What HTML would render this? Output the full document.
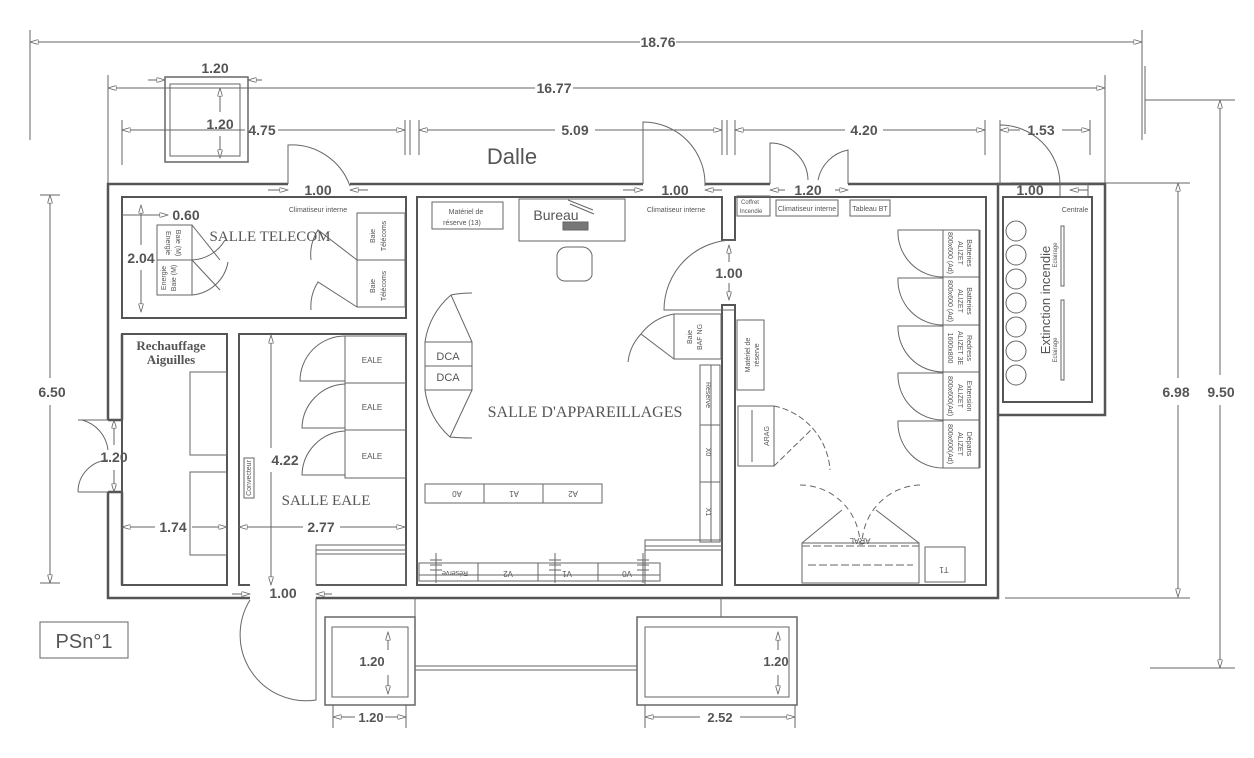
<!DOCTYPE html>
<html><head><meta charset="utf-8"><style>
html,body{margin:0;padding:0;background:#fff;}
svg{display:block;}
text{font-family:"Liberation Sans",sans-serif;fill:#555;}
.s{font-family:"Liberation Serif",serif;}
</style></head><body>
<svg width="1254" height="758" viewBox="0 0 1254 758" xmlns="http://www.w3.org/2000/svg">
<defs>
<marker id="a" viewBox="0 0 10 6" refX="10" refY="3" markerWidth="9" markerHeight="5" orient="auto-start-reverse"><path d="M0,0 L10,3 L0,6 Z" fill="#fff" stroke="#666" stroke-width="1"/></marker>
</defs>
<g stroke="#666" fill="none" stroke-width="1">
<!-- top dimensions -->
<line x1="30" y1="42" x2="640" y2="42" marker-start="url(#a)"/><line x1="676" y1="42" x2="1142" y2="42" marker-end="url(#a)"/>
<line x1="30" y1="30" x2="30" y2="140"/><line x1="1142" y1="30" x2="1142" y2="140"/>
<line x1="108" y1="88" x2="535" y2="88" marker-start="url(#a)"/><line x1="573" y1="88" x2="1105" y2="88" marker-end="url(#a)"/>
<line x1="108" y1="75" x2="108" y2="184"/><line x1="1105" y1="75" x2="1105" y2="184"/>
<line x1="122" y1="130" x2="245" y2="130" marker-start="url(#a)"/><line x1="278" y1="130" x2="405" y2="130" marker-end="url(#a)"/>
<line x1="122" y1="120" x2="122" y2="165"/><line x1="405" y1="120" x2="405" y2="155"/><line x1="410" y1="120" x2="410" y2="155"/>
<line x1="419" y1="130" x2="555" y2="130" marker-start="url(#a)"/><line x1="595" y1="130" x2="722" y2="130" marker-end="url(#a)"/>
<line x1="419" y1="120" x2="419" y2="155"/><line x1="722" y1="120" x2="722" y2="155"/><line x1="727" y1="120" x2="727" y2="155"/>
<line x1="735" y1="130" x2="845" y2="130" marker-start="url(#a)"/><line x1="883" y1="130" x2="985" y2="130" marker-end="url(#a)"/>
<line x1="735" y1="120" x2="735" y2="155"/><line x1="985" y1="120" x2="985" y2="155"/><line x1="1000" y1="120" x2="1000" y2="155"/>
<line x1="1000" y1="130" x2="1020" y2="130" marker-start="url(#a)"/><line x1="1062" y1="130" x2="1090" y2="130" marker-end="url(#a)"/><line x1="1090" y1="120" x2="1090" y2="155"/>
<!-- top left square -->
<rect x="165" y="77" width="83" height="85" stroke-width="1.5"/><rect x="170" y="84" width="70" height="72"/>
<line x1="148" y1="80" x2="165" y2="80" marker-end="url(#a)"/><line x1="248" y1="80" x2="262" y2="80" marker-start="url(#a)"/>
<line x1="220" y1="88" x2="220" y2="112" marker-start="url(#a)"/><line x1="220" y1="136" x2="220" y2="158" marker-end="url(#a)"/>
<!-- right dims -->
<line x1="1145" y1="100" x2="1235" y2="100"/><line x1="1145" y1="66" x2="1145" y2="134"/>
<line x1="1220" y1="100" x2="1220" y2="375" marker-start="url(#a)"/><line x1="1220" y1="405" x2="1220" y2="668" marker-end="url(#a)"/>
<line x1="1150" y1="668" x2="1235" y2="668"/>
<line x1="1010" y1="183" x2="1190" y2="183"/><line x1="1005" y1="598" x2="1190" y2="598"/>
<line x1="1178" y1="183" x2="1178" y2="378" marker-start="url(#a)"/><line x1="1178" y1="405" x2="1178" y2="597" marker-end="url(#a)"/>
<line x1="40" y1="195" x2="60" y2="195"/><line x1="40" y1="583" x2="60" y2="583"/>
<line x1="50" y1="195" x2="50" y2="378" marker-start="url(#a)"/><line x1="50" y1="405" x2="50" y2="583" marker-end="url(#a)"/>
</g>
<!-- walls -->
<g stroke="#555" fill="none" stroke-width="2.5">
<path d="M288,184 H108 V420 M108,492 V598 H250 M316,598 H998 V184 H1060"/>
<path d="M350,184 H643 M705,184 H770 M848,184 H998"/>
<path d="M122,420 V334 M122,492 V585"/>
<path d="M108,420 H122 M108,492 H122"/>
<path d="M998,184 H1105 V415 H998"/><rect x="1003" y="197" width="89" height="205" stroke-width="2"/>
<rect x="122" y="197" width="284" height="121" stroke-width="2"/>
<rect x="122" y="334" width="105" height="251" stroke-width="2"/>
<path d="M250,585 H239 V334 H406 V585 H316" stroke-width="2"/>
<path d="M417,197 H722 V240 H735 V197 H986 V585 H735 V305 H722 V585 H417 Z" stroke-width="2"/>
</g>
<g stroke="#666" fill="none" stroke-width="1">
<!-- doors top -->
<path d="M288,184 V145 A62,62 0 0 1 350,186"/>
<path d="M643,184 V122 A62,62 0 0 1 705,186"/>
<path d="M770,184 V143 A38,38 0 0 1 808,180 M848,184 V150 A38,38 0 0 0 818,180"/>
<path d="M1000,184 V125 A60,60 0 0 1 1060,184"/>
<!-- left door -->
<path d="M78,420 H108 M82,420 A35,35 0 0 1 108,450 M78,492 H108 M78,492 A32,32 0 0 1 108,460"/>
<!-- bottom door -->
<path d="M316,598 V700 A66,66 0 0 1 250,600"/>
<!-- right room door -->
<path d="M735,310 H664 A70,70 0 0 1 735,240"/>
<!-- dim lines in doors -->
<line x1="268" y1="190" x2="288" y2="190" marker-end="url(#a)"/><line x1="350" y1="190" x2="368" y2="190" marker-start="url(#a)"/>
<line x1="623" y1="190" x2="643" y2="190" marker-end="url(#a)"/><line x1="705" y1="190" x2="722" y2="190" marker-start="url(#a)"/>
<line x1="1070" y1="190" x2="1088" y2="190" marker-start="url(#a)"/>
<line x1="770" y1="190" x2="785" y2="190" marker-start="url(#a)"/><line x1="835" y1="190" x2="848" y2="190" marker-end="url(#a)"/>
<line x1="114" y1="420" x2="114" y2="445" marker-start="url(#a)"/><line x1="114" y1="470" x2="114" y2="492" marker-end="url(#a)"/>
<line x1="729" y1="245" x2="729" y2="262" marker-start="url(#a)"/><line x1="729" y1="283" x2="729" y2="300" marker-end="url(#a)"/>
<line x1="232" y1="594" x2="250" y2="594" marker-end="url(#a)"/><line x1="316" y1="594" x2="332" y2="594" marker-start="url(#a)"/>
<!-- interior dims -->
<line x1="141" y1="205" x2="141" y2="245" marker-start="url(#a)"/><line x1="141" y1="270" x2="141" y2="312" marker-end="url(#a)"/>
<line x1="122" y1="215" x2="165" y2="215"/><line x1="150" y1="215" x2="168" y2="215" marker-end="url(#a)"/>
<line x1="122" y1="527" x2="155" y2="527" marker-start="url(#a)"/><line x1="192" y1="527" x2="227" y2="527" marker-end="url(#a)"/>
<line x1="239" y1="527" x2="303" y2="527" marker-start="url(#a)"/><line x1="340" y1="527" x2="405" y2="527" marker-end="url(#a)"/>
<line x1="271" y1="335" x2="271" y2="448" marker-start="url(#a)"/><line x1="271" y1="472" x2="271" y2="585" marker-end="url(#a)"/>
<!-- Telecom -->
<rect x="157" y="225" width="35" height="35"/><rect x="157" y="260" width="35" height="35"/>
<path d="M192,225 L220,260 M192,260 A40,40 0 0 0 225,240 M192,260 L220,290 M192,295 A40,40 0 0 0 228,262"/>
<rect x="357" y="213" width="48" height="47"/><rect x="357" y="260" width="48" height="47"/>
<path d="M357,260 L318,230 A46,46 0 0 0 311,260 M357,307 L318,282 A46,46 0 0 0 311,310"/>
<!-- Rechauffage cabinets -->
<rect x="190" y="372" width="37" height="83"/><rect x="190" y="472" width="37" height="83"/>
<!-- EALE -->
<rect x="345" y="336" width="61" height="47"/><rect x="345" y="383" width="61" height="47"/><rect x="345" y="430" width="61" height="48"/>
<path d="M345,336 A45,45 0 0 0 300,381 H345 M345,384 A45,45 0 0 0 302,428 H345 M345,431 A45,45 0 0 0 302,475 H345"/>
<rect x="316" y="545" width="90" height="40"/><line x1="316" y1="550" x2="406" y2="550"/><line x1="316" y1="554" x2="406" y2="554"/>
<rect x="244" y="458" width="10" height="40"/>
<!-- appareillages -->
<rect x="432" y="202" width="71" height="27"/><rect x="519" y="199" width="106" height="42"/>
<rect x="563" y="222" width="25" height="8" fill="#777"/><path d="M568,200 l25,10 M570,204 l24,10"/>
<path d="M557,255 a10,10 0 0 1 10,-8 h15 a10,10 0 0 1 10,8 v20 a8,8 0 0 1 -8,6 h-20 a8,8 0 0 1 -7,-6 Z"/>
<rect x="425" y="342" width="47" height="24"/><rect x="425" y="366" width="47" height="24"/>
<path d="M472,342 L451,295 A75,75 0 0 0 425,342 M472,390 L450,437 A75,75 0 0 1 425,390 M451,295 Q460,293 472,293 M450,437 Q460,438 472,438"/>
<rect x="425" y="484" width="59" height="19"/><rect x="484" y="484" width="59" height="19"/><rect x="543" y="484" width="59" height="19"/>
<rect x="674" y="314" width="47" height="45"/><path d="M674,359 L641,334 A52,52 0 0 1 674,314 M641,334 A48,48 0 0 0 628,362"/>
<rect x="700" y="365" width="20" height="60"/><rect x="700" y="425" width="20" height="57"/><rect x="700" y="482" width="20" height="60"/>
<rect x="711" y="365" width="9" height="177"/>
<rect x="645" y="540" width="77" height="45"/><line x1="645" y1="546" x2="722" y2="546"/><line x1="645" y1="550" x2="722" y2="550"/>
<rect x="419" y="563" width="241" height="18"/><line x1="419" y1="575" x2="660" y2="575"/><line x1="478" y1="563" x2="478" y2="581"/><line x1="538" y1="563" x2="538" y2="581"/><line x1="598" y1="563" x2="598" y2="581"/>
<path d="M436,553 v30 M430,560 h12 M430,565 h12 M430,570 h12 M555,553 v30 M549,560 h12 M549,565 h12 M549,570 h12 M643,553 v30 M637,560 h12 M637,565 h12 M637,570 h12"/>
<!-- right room -->
<rect x="737" y="196" width="33" height="20"/><rect x="776" y="200" width="62" height="16"/><rect x="850" y="200" width="40" height="16"/>
<rect x="737" y="320" width="27" height="70"/>
<rect x="738" y="406" width="36" height="60"/><line x1="752" y1="410" x2="752" y2="462"/>
<path d="M774,466 L813,428 M774,406 A70,70 0 0 1 830,470" stroke-dasharray="6,3"/>
<rect x="802" y="543" width="117" height="40"/><path d="M802,543 L842,510 M919,543 L876,510"/>
<path d="M802,546 H919 M808,565 H913" stroke-dasharray="8,3"/>
<path d="M800,485 A60,60 0 0 1 860,545 M920,485 A60,60 0 0 0 862,545" stroke-dasharray="6,4"/>
<rect x="925" y="547" width="40" height="35"/>
<g>
<rect x="943" y="230" width="36" height="47"/><rect x="943" y="277" width="36" height="48"/><rect x="943" y="325" width="36" height="47"/><rect x="943" y="372" width="36" height="48"/><rect x="943" y="420" width="36" height="48"/>
<path d="M943,277 A45,45 0 0 1 898,230 H943 M943,325 A45,45 0 0 1 898,278 H943 M943,372 A45,45 0 0 1 898,326 H943 M943,420 A45,45 0 0 1 898,373 H943 M943,468 A45,45 0 0 1 898,421 H943"/>
<line x1="980" y1="230" x2="980" y2="468"/>
</g>
<!-- annex -->
<circle cx="1016" cy="231" r="10"/><circle cx="1016" cy="255" r="10"/><circle cx="1016" cy="279" r="10"/><circle cx="1016" cy="303" r="10"/><circle cx="1016" cy="327" r="10"/><circle cx="1016" cy="351" r="10"/><circle cx="1016" cy="375" r="10"/>
<rect x="1061" y="226" width="3" height="60"/><rect x="1061" y="300" width="3" height="80"/>
<rect x="1060" y="184" width="28" height="13"/>
<!-- bottom boxes -->
<rect x="325" y="617" width="90" height="88" stroke-width="1.5"/><rect x="332" y="627" width="76" height="70"/>
<rect x="637" y="617" width="160" height="88" stroke-width="1.5"/><rect x="645" y="627" width="144" height="70"/>
<line x1="415" y1="666" x2="637" y2="666"/><line x1="415" y1="670" x2="637" y2="670"/>
<line x1="415" y1="598" x2="415" y2="617"/><line x1="721" y1="598" x2="721" y2="617"/>
<line x1="388" y1="632" x2="388" y2="650" marker-start="url(#a)"/><line x1="388" y1="675" x2="388" y2="694" marker-end="url(#a)"/>
<line x1="778" y1="632" x2="778" y2="650" marker-start="url(#a)"/><line x1="778" y1="675" x2="778" y2="694" marker-end="url(#a)"/>
<line x1="333" y1="717" x2="355" y2="717" marker-start="url(#a)"/><line x1="385" y1="717" x2="406" y2="717" marker-end="url(#a)"/>
<line x1="333" y1="705" x2="333" y2="728"/><line x1="406" y1="705" x2="406" y2="728"/>
<line x1="645" y1="717" x2="700" y2="717" marker-start="url(#a)"/><line x1="740" y1="717" x2="795" y2="717" marker-end="url(#a)"/>
<line x1="645" y1="705" x2="645" y2="728"/><line x1="795" y1="705" x2="795" y2="728"/>
<rect x="40" y="622" width="88" height="36"/>
</g>
<!-- dimension text -->
<g font-weight="bold" font-size="14" text-anchor="middle">
<text x="658" y="47">18.76</text><text x="554" y="93">16.77</text>
<text x="262" y="135">4.75</text><text x="575" y="135">5.09</text><text x="864" y="135">4.20</text><text x="1041" y="135">1.53</text>
<text x="215" y="73">1.20</text><text x="220" y="129">1.20</text>
<text x="318" y="195">1.00</text><text x="675" y="195">1.00</text><text x="808" y="195">1.20</text><text x="1030" y="195">1.00</text>
<text x="186" y="220">0.60</text><text x="141" y="263">2.04</text>
<text x="52" y="397">6.50</text><text x="114" y="462">1.20</text>
<text x="173" y="532">1.74</text><text x="321" y="532">2.77</text><text x="285" y="465">4.22</text>
<text x="283" y="598">1.00</text><text x="729" y="278">1.00</text>
<text x="1176" y="397">6.98</text><text x="1221" y="397">9.50</text>
<text x="372" y="666" font-size="13">1.20</text><text x="371" y="722" font-size="13">1.20</text>
<text x="776" y="666" font-size="13">1.20</text><text x="720" y="722" font-size="13">2.52</text>
</g>
<g class="s" text-anchor="middle">
<text x="270" y="241" font-size="15" class="s">SALLE TELECOM</text>
<text x="171" y="350" font-size="13" class="s" font-weight="bold">Rechauffage</text>
<text x="171" y="364" font-size="13" class="s" font-weight="bold">Aiguilles</text>
<text x="326" y="505" font-size="15" class="s">SALLE EALE</text>
<text x="585" y="417" font-size="16" class="s">SALLE D'APPAREILLAGES</text>
</g>
<text x="512" y="164" font-size="22" text-anchor="middle">Dalle</text>
<text x="84" y="648" font-size="20" text-anchor="middle">PSn°1</text>
<text x="556" y="220" font-size="14" text-anchor="middle">Bureau</text>
<g font-size="8" text-anchor="middle">
<text x="318" y="212" font-size="7">Climatiseur interne</text>
<text x="676" y="212" font-size="7">Climatiseur interne</text>
<text x="807" y="211" font-size="7">Climatiseur interne</text>
<text x="870" y="211" font-size="7">Tableau BT</text>
<text x="750" y="204" font-size="6">Coffret</text><text x="751" y="213" font-size="6">Incendie</text>
<text x="1075" y="212" font-size="7">Centrale</text>
<text x="466" y="214" font-size="7">Matériel de</text><text x="462" y="225" font-size="7">réserve (13)</text>
<text x="372" y="363">EALE</text><text x="372" y="410">EALE</text><text x="372" y="459">EALE</text>
<text x="448" y="360" font-size="11">DCA</text><text x="448" y="381" font-size="11">DCA</text>
<text x="457" y="491" transform="rotate(180 457 491)">A0</text>
<text x="514" y="491" transform="rotate(180 514 491)">A1</text>
<text x="573" y="491" transform="rotate(180 573 491)">A2</text>
<text x="455" y="571" font-size="7" transform="rotate(180 455 571)">Réserve</text>
<text x="508" y="571" transform="rotate(180 508 571)">V2</text>
<text x="567" y="571" transform="rotate(180 567 571)">V1</text>
<text x="627" y="571" transform="rotate(180 627 571)">V0</text>
<text x="860" y="538" transform="rotate(180 860 538)">ARAL</text>
<text x="944" y="567" transform="rotate(180 944 567)">T1</text>
</g>
<g font-size="7" text-anchor="middle">
<text transform="translate(176,243) rotate(90)">Baie (M)</text><text transform="translate(166,243) rotate(90)">Energie</text>
<text transform="translate(176,278) rotate(-90)">Baie (M)</text><text transform="translate(166,278) rotate(-90)">Energie</text>
<text transform="translate(375,236) rotate(-90)">Baie</text><text transform="translate(386,236) rotate(-90)">Télécoms</text>
<text transform="translate(375,286) rotate(-90)">Baie</text><text transform="translate(386,286) rotate(-90)">Télécoms</text>
<text transform="translate(251,478) rotate(-90)">Convecteur</text>
<text transform="translate(692,337) rotate(-90)">Baie</text><text transform="translate(702,337) rotate(-90)">BAF NG</text>
<text transform="translate(750,355) rotate(-90)">Matériel de</text><text transform="translate(759,355) rotate(-90)">réserve</text>
<text transform="translate(706,395) rotate(90)">Réserve</text><text transform="translate(706,452) rotate(90)">X0</text><text transform="translate(706,512) rotate(90)">X1</text>
<text transform="translate(769,436) rotate(-90)">ARAG</text>
<text transform="translate(967,253) rotate(90)">Batteries</text><text transform="translate(958,253) rotate(90)">ALIZET</text><text transform="translate(948,253) rotate(90)">800x600 (Ad)</text>
<text transform="translate(967,301) rotate(90)">Batteries</text><text transform="translate(958,301) rotate(90)">ALIZET</text><text transform="translate(948,301) rotate(90)">800x600 (Ad)</text>
<text transform="translate(967,348) rotate(90)">Redress</text><text transform="translate(958,348) rotate(90)">ALIZET 3E</text><text transform="translate(948,348) rotate(90)">1600x800</text>
<text transform="translate(967,396) rotate(90)">Extension</text><text transform="translate(958,396) rotate(90)">ALIZET</text><text transform="translate(948,396) rotate(90)">800x600(Ad)</text>
<text transform="translate(967,444) rotate(90)">Départs</text><text transform="translate(958,444) rotate(90)">ALIZET</text><text transform="translate(948,444) rotate(90)">800x600(Ad)</text>
<text transform="translate(1057,255) rotate(-90)" font-size="6">Eclairage</text>
<text transform="translate(1057,350) rotate(-90)" font-size="6">Eclairage</text>
</g>
<text transform="translate(1050,300) rotate(-90)" font-size="13" text-anchor="middle">Extinction incendie</text>
</svg>
</body></html>
